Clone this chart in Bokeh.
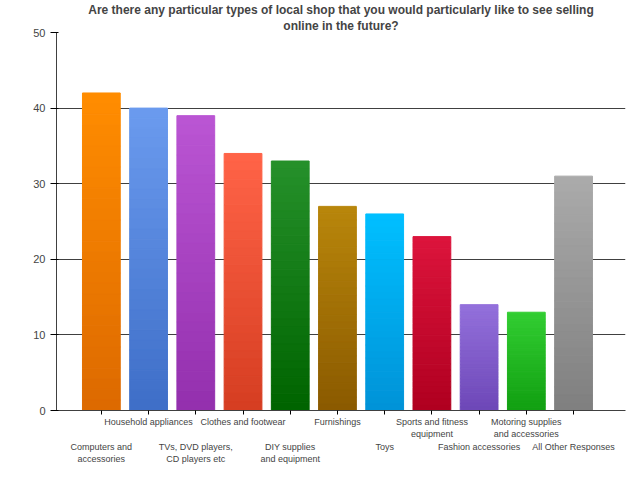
from bokeh.plotting import figure
from bokeh.models import LinearAxis, FixedTicker, Range1d, Title
from bokeh.embed import file_html
from bokeh.resources import INLINE

title_lines = ["Are there any particular types of local shop that you would particularly like to see selling",
               "online in the future?"]
categories = ["Computers and\naccessories", "Household appliances", "TVs, DVD players,\nCD players etc",
              "Clothes and footwear", "DIY supplies\nand equipment", "Furnishings", "Toys",
              "Sports and fitness\nequipment", "Fashion accessories", "Motoring supplies\nand accessories",
              "All Other Responses"]
values = [42, 40, 39, 34, 33, 27, 26, 23, 14, 13, 31]
top_colors = ["#FF8C00", "#6A9AEE", "#BA55D3", "#FF6347", "#25902A", "#B8860B", "#00BFFF", "#DC143C", "#9370DB", "#32CD32", "#AAAAAA"]
bot_colors = ["#DD6A00", "#3F6FC8", "#9430AE", "#D63E22", "#006400", "#8B5A00", "#0093D8", "#B00020", "#6E48B8", "#12A012", "#808080"]

def mix(c1, c2, t):
    a = [int(c1[i:i+2], 16) for i in (1, 3, 5)]
    b = [int(c2[i:i+2], 16) for i in (1, 3, 5)]
    return "#%02x%02x%02x" % tuple(round(a[k] + (b[k] - a[k]) * t) for k in range(3))

p = figure(width=627, height=466, output_backend="svg", toolbar_location=None,
           x_range=Range1d(0.05, 12.1), y_range=Range1d(0, 50),
           min_border_left=56, min_border_right=2, min_border_top=30, min_border_bottom=15)
p.title = None
for line in reversed(title_lines):
    p.add_layout(Title(text=line, align="center", text_font="Liberation Sans",
                       text_font_size="12px", text_font_style="bold",
                       standoff=0, offset=0), "above")
p.outline_line_color = None

N = 30
for i, v in enumerate(values):
    x = i + 1
    lefts, rights, tops, bots, cols = [], [], [], [], []
    for k in range(N):
        lefts.append(x - 0.4); rights.append(x + 0.4)
        tops.append(v * (1 - k / N)); bots.append(v * (1 - (k + 1) / N))
        cols.append(mix(top_colors[i], bot_colors[i], k / (N - 1)))
    p.quad(left=lefts, right=rights, top=tops, bottom=bots, fill_color=cols, line_color=cols)

p.xaxis.visible = False
p.xgrid.visible = False
p.ygrid.grid_line_color = "#404040"
p.yaxis.ticker = FixedTicker(ticks=[0, 10, 20, 30, 40, 50])
p.yaxis.minor_tick_line_color = None
p.yaxis.major_label_text_font = "Liberation Sans"
p.yaxis.major_label_text_font_size = "11px"
p.yaxis.axis_line_color = "#404040"

ticks = list(range(1, len(categories) + 1))
ax1 = LinearAxis(ticker=FixedTicker(ticks=ticks),
                 major_label_overrides={t: (categories[t-1] if t % 2 == 0 else "") for t in ticks})
ax2 = LinearAxis(ticker=FixedTicker(ticks=ticks),
                 major_label_overrides={t: (categories[t-1] if t % 2 == 1 else "") for t in ticks})
for ax in (ax1, ax2):
    ax.major_label_text_font = "Liberation Sans"
    ax.major_label_text_font_size = "9px"
    ax.minor_tick_line_color = None
ax1.axis_line_color = "#404040"
ax1.major_tick_out = 4
ax1.major_tick_in = 0
ax1.major_label_standoff = 2
ax2.axis_line_color = None
ax2.major_tick_line_color = None
ax2.major_tick_out = 0
ax2.major_label_standoff = 0
p.add_layout(ax1, "below")
p.add_layout(ax2, "below")

open("out.html", "w").write(file_html(p, INLINE))
